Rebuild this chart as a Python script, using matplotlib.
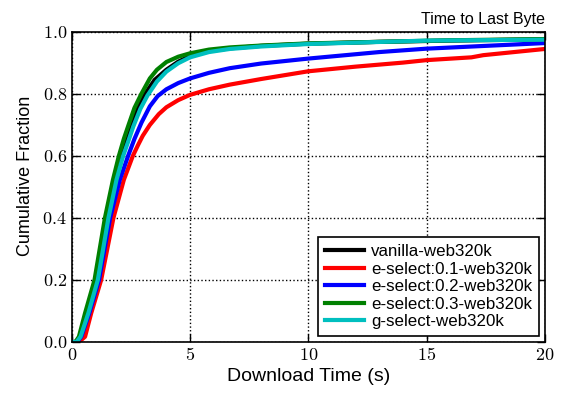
import matplotlib
matplotlib.use("Agg")
import matplotlib.pyplot as plt
from matplotlib.ticker import FixedLocator, FixedFormatter

plt.rcParams['mathtext.fontset'] = 'cm'
plt.rcParams['font.family'] = ['Liberation Sans', 'DejaVu Sans']

labels = ["vanilla-web320k", "e-select:0.1-web320k", "e-select:0.2-web320k",
          "e-select:0.3-web320k", "g-select-web320k"]
colors = ["black", "red", "blue", "green", "c"]

x_vanilla = [0, 0.2, 0.35, 0.65, 1.05, 1.5, 1.84, 2.1, 2.3, 2.52, 2.8, 3.1, 3.5, 4.0, 4.5, 5, 5.8, 6.68, 8, 10, 13, 16, 20]
y_vanilla = [0, 0, 0.017, 0.093, 0.2, 0.4, 0.523, 0.6, 0.65, 0.7, 0.755, 0.8, 0.845, 0.878, 0.904, 0.922, 0.938, 0.947, 0.955, 0.962, 0.968, 0.972, 0.976]

x_e01 = [0, 0.3, 0.56, 0.82, 1.24, 1.76, 2.2, 2.58, 2.8, 3.0, 3.3, 3.68, 4.0, 4.5, 5, 5.8, 6.68, 8, 10, 12, 14, 15, 16.9, 17.4, 20]
y_e01 = [0, 0, 0.017, 0.093, 0.2, 0.4, 0.523, 0.6, 0.635, 0.665, 0.7, 0.735, 0.757, 0.78, 0.797, 0.815, 0.83, 0.848, 0.873, 0.888, 0.901, 0.909, 0.918, 0.925, 0.945]

x_e02 = [0, 0.22, 0.4, 0.74, 1.15, 1.62, 2.03, 2.38, 2.65, 2.95, 3.3, 3.63, 4.0, 4.5, 5, 5.8, 6.68, 8, 10, 13, 15, 20]
y_e02 = [0, 0, 0.017, 0.093, 0.2, 0.4, 0.523, 0.6, 0.655, 0.708, 0.76, 0.793, 0.815, 0.835, 0.85, 0.868, 0.883, 0.898, 0.914, 0.935, 0.946, 0.964]

x_e03 = [0, 0.15, 0.3, 0.56, 0.96, 1.40, 1.74, 1.99, 2.2, 2.4, 2.65, 2.94, 3.3, 3.6, 4.0, 4.5, 5, 5.8, 6.68, 8, 10, 13, 16, 20]
y_e03 = [0, 0, 0.017, 0.093, 0.2, 0.4, 0.523, 0.6, 0.655, 0.7, 0.755, 0.8, 0.85, 0.878, 0.903, 0.92, 0.931, 0.943, 0.95, 0.956, 0.963, 0.968, 0.973, 0.977]

x_g = [0, 0.2, 0.37, 0.70, 1.1, 1.55, 1.89, 2.17, 2.4, 2.6, 2.9, 3.2, 3.6, 4.0, 4.5, 5, 5.8, 6.68, 8, 10, 15, 20]
y_g = [0, 0, 0.017, 0.093, 0.2, 0.4, 0.523, 0.6, 0.65, 0.695, 0.752, 0.795, 0.84, 0.872, 0.899, 0.918, 0.935, 0.945, 0.953, 0.961, 0.972, 0.975]

xs = [x_vanilla, x_e01, x_e02, x_e03, x_g]
ys = [y_vanilla, y_e01, y_e02, y_e03, y_g]

x_ticks = [0, 5, 10, 15, 20]
y_ticks = [0.0, 0.2, 0.4, 0.6, 0.8, 1.0]
x_tick_labels = ["$0$", "$5$", "$10$", "$15$", "$20$"]
y_tick_labels = ["$0.0$", "$0.2$", "$0.4$", "$0.6$", "$0.8$", "$1.0$"]

fig = plt.figure(figsize=(5.61, 3.94), dpi=100)
ax = fig.add_axes([0.128, 0.132, 0.843, 0.787])

for x, y, c, l in zip(xs, ys, colors, labels):
    ax.plot(x, y, color=c, lw=3, label=l, solid_joinstyle='round')

ax.set_xlim(0, 20)
ax.set_ylim(0, 1.0)
ax.xaxis.set_major_locator(FixedLocator(x_ticks))
ax.xaxis.set_major_formatter(FixedFormatter(x_tick_labels))
ax.yaxis.set_major_locator(FixedLocator(y_ticks))
ax.yaxis.set_major_formatter(FixedFormatter(y_tick_labels))
ax.tick_params(direction='in', top=True, right=True, labelsize=13, length=6, width=1)
ax.grid(True, color='black', linestyle=':', linewidth=1)
for s in ax.spines.values():
    s.set_linewidth(1.2)

ax.set_xlabel("Download Time (s)", fontsize=14, labelpad=3)
ax.set_ylabel("Cumulative Fraction", fontsize=13)
ax.yaxis.set_label_coords(-0.08, 0.535)
ax.set_title("Time to Last Byte", loc='right', fontsize=11.5, pad=6)

leg = ax.legend(loc='lower right', fontsize=12.2, fancybox=False, framealpha=1,
                edgecolor='black', borderaxespad=0.35, handlelength=2.3,
                handletextpad=0.4, labelspacing=0.15, borderpad=0.4)
leg.get_frame().set_linewidth(1.2)

fig.savefig("out.png", dpi=100)
